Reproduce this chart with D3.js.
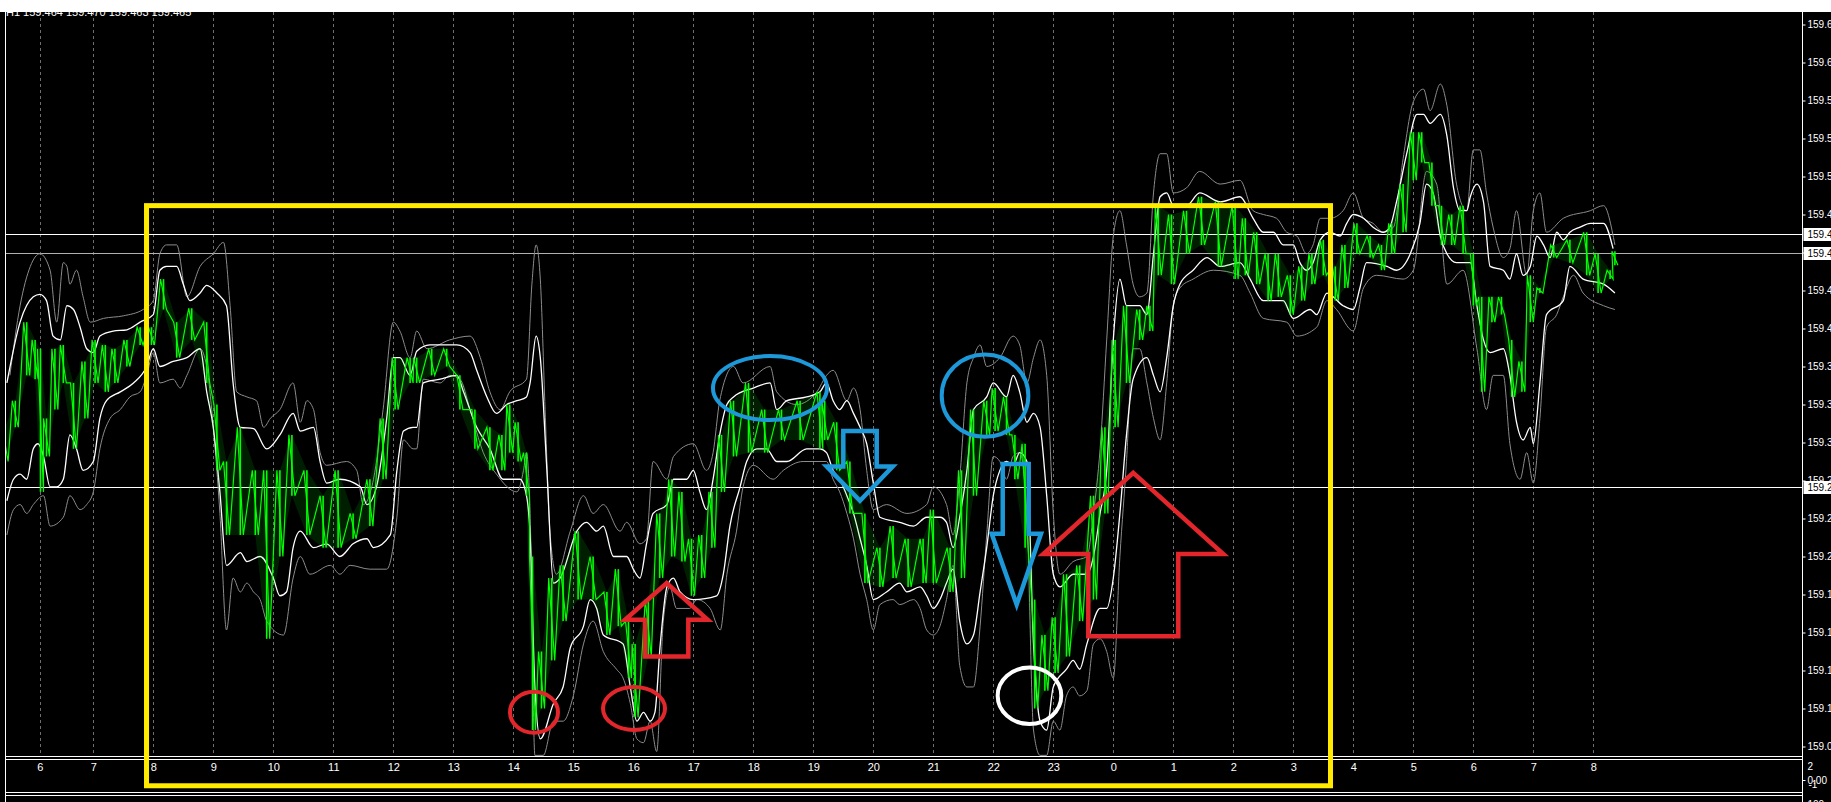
<!DOCTYPE html>
<meta charset="utf-8">
<script src="https://d3js.org/d3.v7.min.js"></script>
<style>
  body { margin: 0; background: #000; }
  svg { display: block; }
  text { font-family: "Liberation Sans", Arial, sans-serif; }
</style>
<body>
<div id="chart"></div>
<script>
// time axis: hours since day one 00:00 (24 = 0:00 next day)
var hourTicks = [6.11, 7, 8, 9, 10, 11, 12, 13, 14, 15, 16, 17, 18, 19, 20, 21, 22, 23,
                 24, 25, 26, 27, 28, 29, 30, 31, 32];
var hourLabels = ["6", "7", "8", "9", "10", "11", "12", "13", "14", "15", "16", "17", "18", "19",
                  "20", "21", "22", "23", "0", "1", "2", "3", "4", "5", "6", "7", "8"];

// price scale ticks (labels get cut by the window edge)
var priceTicks = [159.645, 159.615, 159.585, 159.555, 159.525, 159.495, 159.465, 159.435,
                  159.405, 159.375, 159.345, 159.315, 159.285, 159.255, 159.225, 159.195,
                  159.165, 159.135, 159.105, 159.075];

var quote = "H1 159.464 159.470 159.463 159.465";
var bidPrice = 159.465;
var hLines = [159.480, 159.280];

// price bars: [time, low, high]
var bars = [
  [5.53,159.300,159.327],[5.70,159.327,159.348],[5.89,159.368,159.410],[6.03,159.365,159.396],
  [6.12,159.276,159.389],[6.22,159.304,159.334],[6.36,159.341,159.389],[6.50,159.362,159.392],
  [6.67,159.310,159.362],[6.86,159.334,159.379],[7.03,159.362,159.396],[7.20,159.355,159.392],
  [7.36,159.362,159.389],[7.56,159.375,159.396],[7.78,159.392,159.406],[7.97,159.392,159.406],
  [8.17,159.420,159.444],[8.39,159.382,159.410],[8.64,159.396,159.421],[8.89,159.362,159.410],
  [9.06,159.293,159.345],[9.22,159.242,159.300],[9.45,159.242,159.327],[9.70,159.242,159.293],
  [9.89,159.160,159.293],[10.11,159.225,159.293],[10.31,159.273,159.321],[10.56,159.242,159.293],
  [10.83,159.232,159.273],[11.08,159.232,159.293],[11.33,159.239,159.259],[11.61,159.249,159.286],
  [11.83,159.286,159.334],[12.03,159.341,159.382],[12.28,159.362,159.382],[12.39,159.362,159.382],
  [12.64,159.368,159.389],[12.89,159.375,159.389],[13.11,159.341,159.368],[13.36,159.310,159.341],
  [13.61,159.293,159.327],[13.81,159.293,159.321],[13.94,159.307,159.345],[14.08,159.300,159.331],
  [14.22,159.273,159.307],[14.32,159.088,159.225],[14.47,159.105,159.150],[14.64,159.143,159.208],
  [14.83,159.174,159.218],[15.08,159.191,159.245],[15.33,159.191,159.225],[15.56,159.163,159.197],
  [15.75,159.170,159.215],[15.92,159.129,159.174],[16.03,159.098,159.156],[16.25,159.146,159.191],
  [16.44,159.208,159.259],[16.64,159.225,159.286],[16.81,159.221,159.276],[16.97,159.194,159.239],
  [17.14,159.208,159.242],[17.31,159.232,159.276],[17.47,159.276,159.321],[17.67,159.304,159.348],
  [17.92,159.307,159.362],[18.19,159.307,159.341],[18.47,159.317,159.341],[18.78,159.317,159.348],
  [19.11,159.310,159.355],[19.19,159.317,159.348],[19.39,159.293,159.331],[19.61,159.259,159.300],
  [19.86,159.204,159.259],[20.11,159.201,159.232],[20.33,159.208,159.249],[20.58,159.201,159.239],
  [20.83,159.204,159.239],[21.00,159.204,159.262],[21.28,159.197,159.232],[21.47,159.208,159.293],
  [21.67,159.273,159.341],[21.89,159.321,159.348],[22.03,159.324,159.358],[22.22,159.321,159.351],
  [22.36,159.286,159.321],[22.53,159.232,159.314],[22.69,159.105,159.191],[22.86,159.119,159.163],
  [23.03,159.133,159.177],[23.22,159.146,159.211],[23.44,159.174,159.218],[23.67,159.191,159.273],
  [23.86,159.259,159.327],[24.03,159.327,159.396],[24.22,159.362,159.423],[24.44,159.396,159.420],
  [24.61,159.403,159.423],[24.75,159.447,159.502],[24.97,159.440,159.495],[25.22,159.464,159.498],
  [25.47,159.471,159.509],[25.75,159.454,159.505],[26.03,159.444,159.502],[26.20,159.447,159.492],
  [26.39,159.440,159.481],[26.58,159.427,159.464],[26.75,159.430,159.464],[26.95,159.416,159.447],
  [27.14,159.427,159.454],[27.31,159.440,159.464],[27.50,159.447,159.475],[27.70,159.427,159.454],
  [27.86,159.437,159.471],[28.06,159.464,159.488],[28.28,159.461,159.478],[28.47,159.451,159.471],
  [28.64,159.464,159.488],[28.83,159.481,159.519],[29.00,159.522,159.560],[29.14,159.536,159.560],
  [29.31,159.502,159.536],[29.47,159.471,159.502],[29.64,159.471,159.495],[29.83,159.464,159.502],
  [30.00,159.423,159.464],[30.14,159.355,159.430],[30.31,159.410,159.430],[30.47,159.416,159.430],
  [30.64,159.351,159.396],[30.81,159.355,159.379],[30.95,159.410,159.447],[31.11,159.433,159.437],
  [31.34,159.461,159.471],[31.61,159.457,159.475],[31.89,159.447,159.481],[32.08,159.433,159.464],
  [32.28,159.444,159.451],[32.36,159.455,159.466]
];

// inner bands (white)
var whiteUp = [
  [5.56,159.362],[5.78,159.410],[6.00,159.430],[6.11,159.432],[6.22,159.427],[6.33,159.399],[6.45,159.396],
  [6.56,159.423],[6.67,159.420],[6.78,159.406],[6.89,159.389],[7.00,159.386],[7.11,159.399],[7.33,159.403],
  [7.56,159.404],[7.78,159.410],[8.00,159.416],[8.11,159.451],[8.22,159.454],[8.39,159.454],[8.50,159.440],
  [8.61,159.427],[8.78,159.433],[8.89,159.439],[9.06,159.433],[9.22,159.423],[9.33,159.362],[9.45,159.327],
  [9.67,159.326],[9.89,159.310],[10.11,159.321],[10.33,159.338],[10.45,159.324],[10.67,159.327],[10.78,159.300],
  [10.89,159.283],[11.11,159.286],[11.45,159.280],[11.56,159.266],[11.72,159.280],[11.89,159.334],[12.00,159.382],
  [12.11,159.382],[12.28,159.368],[12.39,159.387],[12.61,159.392],[12.83,159.392],[13.06,159.392],[13.28,159.386],
  [13.39,159.372],[13.56,159.351],[13.72,159.338],[13.89,159.345],[14.06,159.348],[14.22,159.351],[14.28,159.362],
  [14.38,159.399],[14.45,159.382],[14.56,159.293],[14.67,159.204],[14.78,159.208],[15.06,159.245],[15.22,159.252],
  [15.39,159.245],[15.50,159.249],[15.67,159.225],[15.89,159.225],[16.00,159.215],[16.11,159.208],[16.22,159.235],
  [16.33,159.259],[16.56,159.266],[16.67,159.286],[16.89,159.286],[17.00,159.293],[17.11,159.276],[17.22,159.262],
  [17.33,159.286],[17.44,159.321],[17.56,159.345],[17.67,159.351],[18.00,159.358],[18.28,159.362],[18.39,159.341],
  [18.56,159.348],[18.89,159.351],[19.11,159.355],[19.22,159.362],[19.33,159.348],[19.44,159.341],[19.56,159.348],
  [19.67,159.338],[19.78,159.327],[19.89,159.314],[20.00,159.283],[20.11,159.256],[20.44,159.252],[20.67,159.249],
  [20.89,159.256],[21.11,159.256],[21.22,159.252],[21.33,159.232],[21.44,159.256],[21.56,159.293],[21.67,159.341],
  [21.89,159.351],[22.00,159.362],[22.22,159.351],[22.33,159.368],[22.44,159.355],[22.56,159.331],[22.67,159.338],
  [22.78,159.327],[22.89,159.273],[23.00,159.211],[23.11,159.201],[23.33,159.211],[23.56,159.211],[23.67,159.225],
  [23.78,159.259],[23.89,159.293],[24.00,159.396],[24.11,159.444],[24.22,159.423],[24.44,159.423],[24.56,159.416],
  [24.67,159.464],[24.78,159.509],[24.89,159.512],[25.00,159.502],[25.22,159.502],[25.44,159.512],[25.78,159.505],
  [26.11,159.509],[26.33,159.492],[26.50,159.481],[26.67,159.481],[26.83,159.471],[27.00,159.471],[27.11,159.457],
  [27.22,159.451],[27.33,159.457],[27.45,159.475],[27.61,159.481],[27.78,159.478],[27.89,159.488],[28.00,159.495],
  [28.17,159.492],[28.33,159.485],[28.50,159.481],[28.61,159.485],[28.72,159.505],[28.89,159.543],[29.06,159.574],
  [29.17,159.574],[29.28,159.567],[29.45,159.574],[29.56,159.557],[29.67,159.516],[29.78,159.498],[29.89,159.498],
  [29.95,159.509],[30.06,159.519],[30.17,159.505],[30.28,159.454],[30.50,159.451],[30.61,159.444],[30.72,159.464],
  [30.83,159.447],[30.95,159.454],[31.06,159.478],[31.17,159.471],[31.28,159.461],[31.39,159.481],[31.50,159.475],
  [31.61,159.481],[31.78,159.485],[31.95,159.488],[32.17,159.488],[32.33,159.468]
];
var whiteDn = [
  [5.56,159.269],[5.67,159.286],[5.78,159.290],[5.89,159.286],[6.00,159.310],[6.08,159.314],[6.17,159.304],
  [6.28,159.280],[6.39,159.280],[6.50,159.286],[6.61,159.321],[6.72,159.310],[6.83,159.293],[7.00,159.300],
  [7.11,159.334],[7.22,159.348],[7.45,159.355],[7.67,159.362],[7.89,159.375],[8.00,159.389],[8.11,159.375],
  [8.33,159.379],[8.56,159.382],[8.78,159.389],[8.89,159.355],[9.00,159.327],[9.11,159.276],[9.22,159.218],
  [9.45,159.228],[9.56,159.221],[9.78,159.225],[10.00,159.208],[10.11,159.194],[10.22,159.197],[10.33,159.232],
  [10.45,159.245],[10.67,159.232],[10.89,159.235],[11.11,159.225],[11.33,159.235],[11.56,159.239],[11.67,159.232],
  [11.95,159.242],[12.06,159.293],[12.17,159.324],[12.33,159.327],[12.39,159.327],[12.50,159.362],[12.78,159.365],
  [13.06,159.368],[13.17,159.355],[13.39,159.327],[13.61,159.310],[13.83,159.286],[14.11,159.286],[14.22,159.273],
  [14.28,159.242],[14.36,159.122],[14.45,159.081],[14.67,159.109],[14.83,159.122],[14.95,159.153],[15.17,159.170],
  [15.28,159.191],[15.39,159.184],[15.50,159.163],[15.83,159.156],[15.95,159.122],[16.06,159.095],[16.17,159.102],
  [16.28,159.095],[16.36,159.102],[16.45,159.156],[16.56,159.201],[16.67,159.208],[16.78,159.197],[17.00,159.191],
  [17.39,159.194],[17.50,159.211],[17.61,159.249],[17.78,159.280],[17.89,159.300],[18.06,159.310],[18.22,159.310],
  [18.39,159.300],[18.56,159.300],[18.89,159.310],[19.11,159.310],[19.22,159.307],[19.33,159.293],[19.44,159.286],
  [19.56,159.273],[19.67,159.259],[19.78,159.239],[19.89,159.218],[20.00,159.191],[20.22,159.197],[20.44,159.204],
  [20.56,159.197],[20.78,159.201],[20.89,159.194],[21.00,159.184],[21.11,159.191],[21.22,159.204],[21.33,159.215],
  [21.44,159.174],[21.56,159.156],[21.67,159.163],[21.78,159.197],[21.89,159.232],[22.00,159.273],[22.11,159.293],
  [22.22,159.300],[22.33,159.297],[22.44,159.307],[22.56,159.300],[22.67,159.156],[22.78,159.095],[22.89,159.088],
  [23.00,159.122],[23.22,159.136],[23.33,159.143],[23.44,159.136],[23.56,159.156],[23.78,159.184],[23.89,159.184],
  [24.00,159.208],[24.11,159.259],[24.22,159.321],[24.33,159.365],[24.56,159.382],[24.67,159.368],[24.78,159.355],
  [24.89,159.382],[25.00,159.423],[25.11,159.440],[25.33,159.451],[25.56,159.461],[25.78,159.454],[26.11,159.457],
  [26.28,159.444],[26.50,159.427],[26.83,159.427],[27.00,159.413],[27.28,159.420],[27.39,159.416],[27.56,159.433],
  [27.83,159.423],[28.00,159.420],[28.11,159.437],[28.22,159.457],[28.56,159.454],[28.72,159.451],[28.95,159.464],
  [29.11,159.488],[29.22,159.519],[29.33,159.512],[29.45,159.478],[29.56,159.464],[29.72,159.457],[29.95,159.457],
  [30.06,159.423],[30.17,159.396],[30.28,159.386],[30.50,159.389],[30.61,159.368],[30.72,159.331],[30.83,159.317],
  [30.95,159.327],[31.00,159.314],[31.11,159.362],[31.22,159.416],[31.50,159.427],[31.61,159.454],[31.83,159.444],
  [32.17,159.440],[32.36,159.433]
];

// outer bands (grey)
var grayUp = [
  [5.61,159.368],[5.78,159.423],[5.95,159.454],[6.11,159.464],[6.28,159.451],[6.39,159.410],[6.50,159.457],
  [6.56,159.454],[6.61,159.440],[6.72,159.451],[6.83,159.430],[6.95,159.410],[7.17,159.413],[7.50,159.415],
  [7.83,159.420],[8.00,159.427],[8.11,159.464],[8.22,159.471],[8.39,159.471],[8.56,159.430],[8.78,159.454],
  [9.00,159.464],[9.17,159.473],[9.28,159.423],[9.39,159.355],[9.56,159.351],[9.72,159.348],[9.84,159.327],
  [9.95,159.334],[10.11,159.341],[10.33,159.362],[10.45,159.331],[10.56,159.348],[10.67,159.341],[10.78,159.307],
  [10.89,159.297],[11.22,159.300],[11.39,159.293],[11.50,159.266],[11.67,159.286],[11.83,159.341],[12.00,159.410],
  [12.11,159.403],[12.28,159.382],[12.39,159.403],[12.56,159.389],[12.94,159.396],[13.28,159.399],[13.45,159.382],
  [13.61,159.355],[13.78,159.341],[13.94,159.355],[14.22,159.365],[14.31,159.440],[14.38,159.471],[14.45,159.444],
  [14.53,159.341],[14.61,159.245],[14.72,159.211],[14.95,159.245],[15.17,159.273],[15.33,159.259],[15.50,159.266],
  [15.78,159.245],[15.89,159.252],[16.11,159.235],[16.22,159.239],[16.33,159.300],[16.56,159.286],[16.67,159.304],
  [17.00,159.314],[17.22,159.293],[17.33,159.307],[17.44,159.348],[17.67,159.375],[17.83,159.362],[18.28,159.375],
  [18.39,159.355],[18.72,159.345],[19.06,159.355],[19.22,159.368],[19.33,159.372],[19.56,159.348],[19.67,159.358],
  [19.78,159.341],[19.89,159.293],[20.00,159.262],[20.22,159.266],[20.56,159.259],[20.89,159.266],[21.00,159.280],
  [21.22,159.266],[21.33,159.242],[21.44,159.286],[21.56,159.362],[21.67,159.382],[21.78,159.392],[21.89,159.375],
  [22.11,159.382],[22.33,159.399],[22.44,159.392],[22.56,159.362],[22.67,159.382],[22.78,159.396],[22.89,159.368],
  [23.00,159.259],[23.11,159.211],[23.33,159.221],[23.56,159.225],[23.67,159.259],[23.78,159.310],[23.89,159.396],
  [24.00,159.478],[24.11,159.498],[24.22,159.471],[24.33,159.440],[24.44,159.430],[24.56,159.433],[24.67,159.512],
  [24.78,159.543],[24.89,159.543],[25.00,159.512],[25.22,159.516],[25.44,159.529],[25.78,159.519],[26.11,159.522],
  [26.33,159.498],[26.50,159.495],[26.72,159.492],[26.89,159.481],[27.06,159.478],[27.22,159.464],[27.33,159.471],
  [27.45,159.492],[27.61,159.492],[27.83,159.498],[28.00,159.512],[28.17,159.492],[28.33,159.488],[28.50,159.481],
  [28.67,159.485],[28.83,159.539],[29.00,159.584],[29.17,159.594],[29.28,159.577],[29.45,159.598],[29.56,159.581],
  [29.72,159.519],[29.89,159.498],[30.00,159.546],[30.11,159.546],[30.22,159.512],[30.33,159.485],[30.50,159.461],
  [30.61,159.468],[30.72,159.498],[30.89,159.447],[31.00,159.498],[31.11,159.512],[31.22,159.481],[31.50,159.492],
  [31.95,159.498],[32.17,159.502],[32.36,159.471]
];
var grayDn = [
  [5.56,159.242],[5.67,159.262],[5.78,159.266],[5.89,159.259],[6.00,159.266],[6.17,159.273],[6.28,159.249],
  [6.50,159.256],[6.61,159.273],[6.78,159.262],[6.89,159.266],[7.00,159.276],[7.11,159.310],[7.28,159.334],
  [7.45,159.341],[7.61,159.351],[7.78,159.355],[7.89,159.368],[8.00,159.386],[8.11,159.362],[8.33,159.365],
  [8.45,159.358],[8.56,159.368],[8.78,159.389],[8.89,159.375],[9.00,159.327],[9.11,159.259],[9.22,159.167],
  [9.33,159.208],[9.45,159.197],[9.56,159.204],[9.67,159.197],[9.78,159.191],[9.89,159.174],[10.17,159.163],
  [10.33,159.208],[10.45,159.225],[10.61,159.211],[10.95,159.218],[11.11,159.211],[11.28,159.218],[11.61,159.215],
  [11.89,159.215],[12.06,159.256],[12.17,159.317],[12.33,159.310],[12.39,159.310],[12.50,159.365],[12.78,159.362],
  [12.94,159.368],[13.11,159.365],[13.28,159.341],[13.50,159.307],[13.72,159.290],[14.06,159.276],[14.17,159.293],
  [14.22,159.307],[14.28,159.259],[14.36,159.068],[14.50,159.068],[14.67,159.095],[14.83,159.095],[15.00,159.115],
  [15.17,159.156],[15.33,159.174],[15.50,159.150],[15.72,159.136],[15.83,159.129],[15.95,159.109],[16.06,159.081],
  [16.17,159.078],[16.28,159.095],[16.39,159.071],[16.50,159.174],[16.61,159.201],[16.72,159.184],[16.94,159.184],
  [17.06,159.191],[17.28,159.184],[17.45,159.167],[17.56,159.211],[17.72,159.245],[17.83,159.280],[18.00,159.297],
  [18.33,159.286],[18.50,159.293],[18.83,159.300],[19.22,159.300],[19.33,159.286],[19.44,159.276],[19.56,159.259],
  [19.67,159.239],[19.78,159.211],[19.89,159.191],[20.00,159.167],[20.11,159.187],[20.33,159.191],[20.44,159.187],
  [20.67,159.191],[20.78,159.184],[20.89,159.167],[21.00,159.163],[21.11,159.170],[21.22,159.191],[21.33,159.218],
  [21.44,159.139],[21.56,159.122],[21.67,159.122],[21.78,159.170],[21.89,159.242],[22.00,159.304],[22.11,159.300],
  [22.22,159.286],[22.33,159.304],[22.44,159.307],[22.56,159.259],[22.67,159.088],[22.78,159.068],[22.89,159.068],
  [23.00,159.095],[23.11,159.088],[23.22,159.115],[23.33,159.122],[23.44,159.115],[23.56,159.119],[23.67,159.156],
  [23.78,159.160],[23.89,159.150],[24.00,159.129],[24.11,159.225],[24.22,159.300],[24.33,159.389],[24.44,159.389],
  [24.56,159.362],[24.67,159.334],[24.78,159.317],[24.89,159.362],[25.00,159.423],[25.11,159.437],[25.33,159.444],
  [25.67,159.451],[26.11,159.447],[26.28,159.433],[26.50,159.413],[26.89,159.410],[27.06,159.399],[27.39,159.406],
  [27.56,159.427],[27.72,159.420],[28.00,159.403],[28.17,159.437],[28.39,159.447],[28.83,159.444],[29.00,159.451],
  [29.22,159.529],[29.39,159.519],[29.56,159.440],[29.83,159.451],[30.06,159.389],[30.22,159.341],[30.33,159.368],
  [30.50,159.368],[30.61,159.314],[30.78,159.286],[30.89,159.307],[31.00,159.283],[31.11,159.334],[31.22,159.406],
  [31.39,159.416],[31.50,159.430],[31.67,159.447],[31.83,159.433],[32.17,159.423],[32.36,159.420]
];

// drawn objects, anchored in time / price like the terminal does
var yellowBox = { t0: 7.887, t1: 27.62, p0: 159.044, p1: 159.502 };
var ellipses = [
  { t: 14.345, p: 159.102, rt: 0.40,  rp: 0.0162, color: "#e3262b" },
  { t: 16.012, p: 159.105, rt: 0.517, rp: 0.0170, color: "#e3262b" },
  { t: 18.278, p: 159.358, rt: 0.95,  rp: 0.0253, color: "#1d98d8" },
  { t: 21.862, p: 159.352, rt: 0.722, rp: 0.0325, color: "#1d98d8" },
  { t: 22.603, p: 159.115, rt: 0.53,  rp: 0.0223, color: "#ffffff" }
];
// arrow: tip, price of the head base, head wings, shaft sides, shaft end
var arrows = [
  { t: 16.557, p: 159.204, pw: 159.175, w0: 15.862, w1: 17.240, s0: 16.195, s1: 16.917, pe: 159.146, color: "#e3262b" },
  { t: 19.778, p: 159.269, pw: 159.296, w0: 19.223, w1: 20.323, s0: 19.500, s1: 20.057, pe: 159.324, color: "#1d98d8" },
  { t: 22.390, p: 159.187, pw: 159.243, w0: 21.973, w1: 22.795, s0: 22.157, s1: 22.590, pe: 159.298, color: "#1d98d8" },
  { t: 24.333, p: 159.291, pw: 159.227, w0: 22.833, w1: 25.833, s0: 23.583, s1: 25.083, pe: 159.162, color: "#e3262b" }
];

var W = 1831, H = 802;
var plotL = 6, plotR = 1802.5, plotT = 12, plotB = 756;

var svg = d3.select("#chart").append("svg")
    .attr("width", W).attr("height", H);

svg.append("rect").attr("width", W).attr("height", H).attr("fill", "#000");

var x = d3.scaleLinear().domain([7, 32]).range([93.3, 1593.3]);
var y = d3.scaleLinear().domain([159.075, 159.645]).range([746.5, 24.5]);

svg.append("defs").append("clipPath").attr("id", "plotclip")
  .append("rect").attr("x", plotL).attr("y", plotT)
  .attr("width", plotR - plotL).attr("height", plotB - plotT);

// dashed hour grid
svg.append("g").selectAll("line").data(hourTicks).enter().append("line")
    .attr("x1", function(d) { return Math.round(x(d)) + 0.5; })
    .attr("x2", function(d) { return Math.round(x(d)) + 0.5; })
    .attr("y1", plotT).attr("y2", plotB)
    .attr("stroke", "#6e6e6e").attr("stroke-dasharray", "3,3");

var plot = svg.append("g").attr("clip-path", "url(#plotclip)");

// horizontal lines
plot.selectAll(".hl").data(hLines).enter().append("line")
    .attr("x1", plotL).attr("x2", plotR)
    .attr("y1", function(d) { return Math.round(y(d)) + 0.5; })
    .attr("y2", function(d) { return Math.round(y(d)) + 0.5; })
    .attr("stroke", "#fff");
plot.append("line")
    .attr("x1", plotL).attr("x2", plotR)
    .attr("y1", Math.round(y(bidPrice)) + 0.5).attr("y2", Math.round(y(bidPrice)) + 0.5)
    .attr("stroke", "#b0b0b0");

var band = d3.line()
    .x(function(d) { return x(d[0]); })
    .y(function(d) { return y(d[1]); })
    .curve(d3.curveMonotoneX);

[grayUp, grayDn].forEach(function(s) {
  plot.append("path").datum(s).attr("d", band)
      .attr("fill", "none").attr("stroke", "#8c8c8c").attr("stroke-width", 1);
});
[whiteUp, whiteDn].forEach(function(s) {
  plot.append("path").datum(s).attr("d", band)
      .attr("fill", "none").attr("stroke", "#fff").attr("stroke-width", 1.3);
});

// price bars: faint range, vertical high-low strokes and a scribble between them
plot.append("path").datum(bars)
    .attr("d", d3.area()
        .x(function(d) { return x(d[0]); })
        .y0(function(d) { return y(d[1]); })
        .y1(function(d) { return y(d[2]); }))
    .attr("fill", "#00ff00").attr("fill-opacity", 0.12);

plot.append("g").selectAll("line").data(bars).enter().append("line")
    .attr("x1", function(d) { return x(d[0]); })
    .attr("x2", function(d) { return x(d[0]); })
    .attr("y1", function(d) { return y(d[1]); })
    .attr("y2", function(d) { return y(d[2]); })
    .attr("stroke", "#00ff00").attr("stroke-width", 1.6);

var zig = [];
bars.forEach(function(d) {
  zig.push([d[0] - 0.05, d[2]]);
  zig.push([d[0] + 0.05, d[1]]);
});
plot.append("path").datum(zig)
    .attr("d", d3.line().x(function(d) { return x(d[0]); }).y(function(d) { return y(d[1]); }))
    .attr("fill", "none").attr("stroke", "#00ff00").attr("stroke-width", 1.2);

// frame lines
svg.append("line").attr("x1", 5.5).attr("x2", 5.5).attr("y1", plotT).attr("y2", H).attr("stroke", "#fff");
svg.append("line").attr("x1", plotR).attr("x2", plotR).attr("y1", plotT).attr("y2", H).attr("stroke", "#fff");
[756.5, 759.5, 792.5, 795.5].forEach(function(v) {
  svg.append("line").attr("x1", plotL).attr("x2", plotR).attr("y1", v).attr("y2", v).attr("stroke", "#fff");
});

// time labels
var xAxis = svg.append("g").attr("transform", "translate(0,759)")
    .call(d3.axisBottom(x).tickValues(hourTicks)
        .tickFormat(function(d, i) { return hourLabels[i]; })
        .tickSize(0).tickPadding(4));
xAxis.select(".domain").remove();
xAxis.selectAll("text").attr("fill", "#fff").style("font-size", "11px")
    .style("font-family", "Liberation Sans, Arial, sans-serif");

// price axis
var yAxis = svg.append("g").attr("transform", "translate(" + plotR + ",0)")
    .call(d3.axisRight(y).tickValues(priceTicks).tickFormat(d3.format(".3f"))
        .tickSize(3).tickPadding(2));
yAxis.select(".domain").remove();
yAxis.selectAll("line").attr("stroke", "#fff");
yAxis.selectAll("text").attr("fill", "#fff").style("font-size", "10px")
    .style("font-family", "Liberation Sans, Arial, sans-serif");

// highlighted price labels
var marks = hLines.concat([bidPrice]);
marks.forEach(function(p) {
  var yy = Math.round(y(p));
  svg.append("rect").attr("x", plotR + 1).attr("y", yy - 6).attr("width", W - plotR).attr("height", 13)
      .attr("fill", "#fff");
  svg.append("text").attr("x", plotR + 5).attr("y", yy + 4)
      .attr("fill", "#000").style("font-size", "10px").text(d3.format(".3f")(p));
});

// indicator window scale
var sub = svg.append("g").attr("fill", "#fff").style("font-size", "10px");
sub.append("text").attr("x", plotR + 5).attr("y", 770).text("2");
sub.append("text").attr("x", plotR + 5).attr("y", 784).text("0.00");
sub.append("text").attr("x", plotR + 6).attr("y", 788).text("-1");
sub.append("text").attr("x", plotR + 5).attr("y", 808).text("100");
svg.append("line").attr("x1", plotR).attr("x2", plotR + 3).attr("y1", 780.5).attr("y2", 780.5).attr("stroke", "#fff");

// drawn objects
svg.append("rect")
    .attr("x", x(yellowBox.t0)).attr("y", y(yellowBox.p1))
    .attr("width", x(yellowBox.t1) - x(yellowBox.t0))
    .attr("height", y(yellowBox.p0) - y(yellowBox.p1))
    .attr("fill", "none").attr("stroke", "#ffea00").attr("stroke-width", 5);

svg.selectAll(".ell").data(ellipses).enter().append("ellipse")
    .attr("cx", function(d) { return x(d.t); })
    .attr("cy", function(d) { return y(d.p); })
    .attr("rx", function(d) { return x(d.t + d.rt) - x(d.t); })
    .attr("ry", function(d) { return y(d.p - d.rp) - y(d.p); })
    .attr("fill", "none")
    .attr("stroke", function(d) { return d.color; })
    .attr("stroke-width", 4);

svg.selectAll(".arrow").data(arrows).enter().append("polygon")
    .attr("points", function(d) {
      var pts = [[d.t, d.p], [d.w1, d.pw], [d.s1, d.pw], [d.s1, d.pe],
                 [d.s0, d.pe], [d.s0, d.pw], [d.w0, d.pw]];
      return pts.map(function(q) { return x(q[0]) + "," + y(q[1]); }).join(" ");
    })
    .attr("fill", "none")
    .attr("stroke", function(d) { return d.color; })
    .attr("stroke-width", 4.5)
    .attr("stroke-linejoin", "miter");

// quote line, cut by the window header
svg.append("text").attr("x", 6).attr("y", 16).attr("fill", "#fff")
    .style("font-size", "11px").text(quote);
svg.append("rect").attr("width", W).attr("height", plotT).attr("fill", "#fff");
</script>
</body>
